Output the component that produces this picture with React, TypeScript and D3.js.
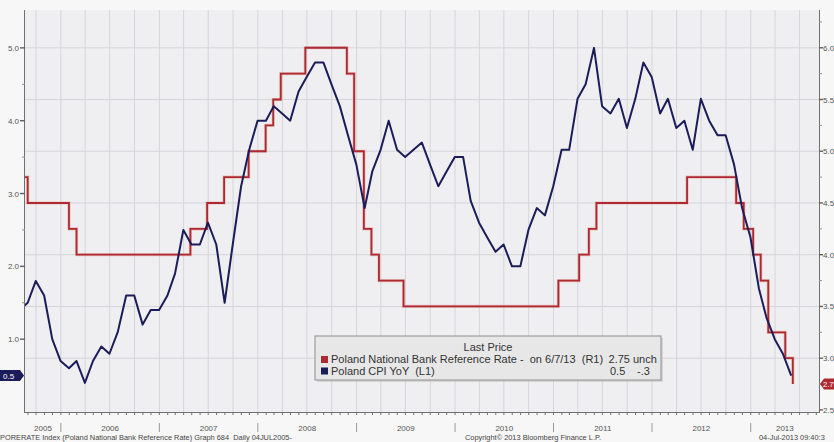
import React from "react";
import * as d3 from "d3";

// ---- data ----
// Poland CPI YoY, monthly, first value = Jul 2005 (plotted at month end)
const cpiFirstMonth = [2005, 6];
const cpiValues = [
  1.4, 1.5, 1.8, 1.6, 1.0, 0.7,
  0.6, 0.7, 0.4, 0.7, 0.9, 0.8, 1.1, 1.6, 1.6, 1.2, 1.4, 1.4,
  1.6, 1.9, 2.5, 2.3, 2.3, 2.6, 2.3, 1.5, 2.3, 3.1, 3.6, 4.0,
  4.0, 4.2, 4.1, 4.0, 4.4, 4.6, 4.8, 4.8, 4.5, 4.2, 3.8, 3.4,
  2.8, 3.3, 3.6, 4.0, 3.6, 3.5, 3.6, 3.7, 3.4, 3.1, 3.3, 3.5,
  3.5, 2.9, 2.6, 2.4, 2.2, 2.3, 2.0, 2.0, 2.5, 2.8, 2.7, 3.1,
  3.6, 3.6, 4.3, 4.5, 5.0, 4.2, 4.1, 4.3, 3.9, 4.3, 4.8, 4.6,
  4.1, 4.3, 3.9, 4.0, 3.6, 4.3, 4.0, 3.8, 3.8, 3.4, 2.8, 2.4,
  1.7, 1.3, 1.0, 0.8, 0.5,
];

// Poland National Bank reference rate decisions
const rateDates = [
  "2005-07-28", "2005-08-31", "2006-01-31", "2006-02-28", "2007-04-26", "2007-06-27",
  "2007-08-29", "2007-11-28", "2008-01-30", "2008-02-27", "2008-03-26", "2008-06-25",
  "2008-11-26", "2008-12-23", "2009-01-28", "2009-02-25", "2009-03-25", "2009-06-24",
  "2011-01-19", "2011-04-06", "2011-05-12", "2011-06-09", "2012-05-10", "2012-11-08",
  "2012-12-06", "2013-01-10", "2013-02-07", "2013-03-07", "2013-05-09", "2013-06-06",
];
const rateValues = [
  4.75, 4.5, 4.25, 4.0, 4.25, 4.5,
  4.75, 5.0, 5.25, 5.5, 5.75, 6.0,
  5.75, 5.0, 4.25, 4.0, 3.75, 3.5,
  3.75, 4.0, 4.25, 4.5, 4.75, 4.5,
  4.25, 4.0, 3.75, 3.25, 3.0, 2.75,
];

const leftTicks = [1.0, 2.0, 3.0, 4.0, 5.0];
const leftMinor = [0.5, 1.5, 2.5, 3.5, 4.5];
const rightTicks = [2.5, 3.0, 3.5, 4.0, 4.5, 5.0, 5.5, 6.0];
const rightMinor = [2.75, 3.25, 3.75, 4.25, 4.75, 5.25, 5.75, 6.25];
const years = [2005, 2006, 2007, 2008, 2009, 2010, 2011, 2012, 2013];

const legendTitle = "Last Price";
const rateLabel = "Poland National Bank Reference Rate -  on 6/7/13  (R1)";
const cpiLabel = "Poland CPI YoY  (L1)";
const rateLast = "2.75";
const rateChg = "unch";
const cpiLast = "0.5";
const cpiChg = "-.3";

const footerLeft = "PORERATE Index (Poland National Bank Reference Rate) Graph 684  Daily 04JUL2005-";
const footerMid = "Copyright\u00A9 2013 Bloomberg Finance L.P.";
const footerRight = "04-Jul-2013 09:40:3";

const FONT = "'Liberation Sans', Arial, sans-serif";

export default function App() {
  const W = 834, H = 442;
  const L = 25, R = 819, T = 10, B = 412;

  const x = d3.scaleTime().domain([new Date(2005, 7, 21), new Date(2013, 8, 11)]).range([L, R]);
  const yL = d3.scaleLinear().domain([0, 5.52]).range([B, T]);
  const yR = d3.scaleLinear().domain([2.48, 6.365]).range([B, T]);

  const parse = d3.timeParse("%Y-%m-%d");
  const rateData = rateDates.map((d, i) => ({ d: parse(d) as Date, v: rateValues[i] }));
  const cpiData = cpiValues.map((v, i) => ({ d: new Date(cpiFirstMonth[0], cpiFirstMonth[1] + i + 1, 0), v }));

  const rateLine = d3.line<{ d: Date; v: number }>().x(p => x(p.d)).y(p => yR(p.v)).curve(d3.curveStepAfter);
  const cpiLine = d3.line<{ d: Date; v: number }>().x(p => x(p.d)).y(p => yL(p.v));

  const quarters = d3.timeMonth.every(3)!.range(x.domain()[0], x.domain()[1]);
  const months = d3.timeMonth.range(x.domain()[0], x.domain()[1]);

  const [d0, d1] = x.domain();
  const yearPos = years.map(yr => {
    const s = new Date(Math.max(+d0, +new Date(yr, 0, 1)));
    const e = new Date(Math.min(+d1, +new Date(yr + 1, 0, 1)));
    return { yr, cx: (x(s) + x(e)) / 2 };
  });
  const seps = years.slice(1).map(yr => x(new Date(yr, 0, 1)));

  const lastCpi = cpiValues[cpiValues.length - 1];
  const lastRate = rateValues[rateValues.length - 1];
  const cL = yL(lastCpi);
  const cR = yR(lastRate);

  return (
    <svg width={W} height={H} style={{ position: "absolute", left: 0, top: 0, display: "block" }} fontFamily={FONT}>
      <defs>
        <clipPath id="plot">
          <rect x={L} y={T} width={R - L} height={B - T} />
        </clipPath>
      </defs>
      <rect x={0} y={0} width={W} height={H} fill="#f7f7f7" />
      <rect x={L} y={T} width={R - L} height={B - T} fill="#efeff1" />

      {/* grid */}
      {quarters.map((q, i) => (
        <line key={"vg" + i} x1={x(q)} x2={x(q)} y1={T} y2={B} stroke="#d6d6da" strokeWidth={1} />
      ))}
      {rightTicks.filter(t => t > 2.6).map((t, i) => (
        <line key={"hg" + i} x1={L} x2={R} y1={yR(t)} y2={yR(t)} stroke="#d6d6da" strokeWidth={1} />
      ))}

      {/* series */}
      <g clipPath="url(#plot)">
        <path d={rateLine(rateData) || ""} fill="none" stroke="#e2a0a0" strokeWidth={3.2} strokeOpacity={0.6} />
        <path d={rateLine(rateData) || ""} fill="none" stroke="#ad2a30" strokeWidth={1.8} />
        <path d={cpiLine(cpiData) || ""} fill="none" stroke="#1c1c5a" strokeWidth={2} strokeLinejoin="round" />
      </g>

      {/* left axis */}
      <line x1={L - 0.5} x2={L - 0.5} y1={T} y2={B + 1} stroke="#707070" strokeWidth={1} />
      {leftTicks.map((t, i) => (
        <g key={"lt" + i}>
          <line x1={L - 5} x2={L} y1={yL(t)} y2={yL(t)} stroke="#606060" strokeWidth={1.4} />
          <text x={L - 6} y={yL(t) + 3} fontSize={8} fill="#555" textAnchor="end">{t.toFixed(1)}</text>
        </g>
      ))}
      {leftMinor.map((t, i) => (
        <line key={"lm" + i} x1={L - 3} x2={L} y1={yL(t)} y2={yL(t)} stroke="#909090" strokeWidth={1} />
      ))}

      {/* right axis */}
      <line x1={R + 0.5} x2={R + 0.5} y1={T} y2={B + 1} stroke="#707070" strokeWidth={1} />
      {rightTicks.map((t, i) => (
        <g key={"rt" + i}>
          <line x1={R} x2={R + 4} y1={yR(t)} y2={yR(t)} stroke="#606060" strokeWidth={1.4} />
          <text x={R + 4} y={yR(t) + 3} fontSize={8} fill="#555">{t.toFixed(1)}</text>
        </g>
      ))}
      {rightMinor.map((t, i) => (
        <line key={"rm" + i} x1={R} x2={R + 3} y1={yR(t)} y2={yR(t)} stroke="#909090" strokeWidth={1} />
      ))}

      {/* bottom axis */}
      <line x1={L - 1} x2={R + 1} y1={B + 0.5} y2={B + 0.5} stroke="#707070" strokeWidth={1} />
      {months.map((m, i) => (
        <line key={"mt" + i} x1={x(m)} x2={x(m)} y1={B} y2={B + 3} stroke="#707070" strokeWidth={1} />
      ))}
      {yearPos.map(p => (
        <text key={"yl" + p.yr} x={p.cx} y={431} fontSize={8} fill="#555" textAnchor="middle">{p.yr}</text>
      ))}
      {seps.map((s, i) => (
        <line key={"sp" + i} x1={s} x2={s} y1={423} y2={432} stroke="#9a9a9a" strokeWidth={1} />
      ))}

      {/* last value badges */}
      <polygon points={`0,${cL - 5.5} 20,${cL - 5.5} 24,${cL} 20,${cL + 5.5} 0,${cL + 5.5}`} fill="#1c1c5a" />
      <text x={3} y={cL + 3} fontSize={8} fill="#fff">{lastCpi.toFixed(1)}</text>
      <polygon points={`${W},${cR - 5.5} ${R + 5},${cR - 5.5} ${R + 1},${cR} ${R + 5},${cR + 5.5} ${W},${cR + 5.5}`} fill="#ad2a30" />
      <text x={R + 4} y={cR + 3} fontSize={7.6} fill="#fff">{lastRate.toFixed(2)}</text>

      {/* legend */}
      <rect x={317} y={338} width={346} height={44} fill="#bdbdbd" opacity={0.5} />
      <rect x={315} y={336} width={346} height={44} fill="#e7e7e8" stroke="#8e8e8e" strokeWidth={1} />
      <text x={488} y={351} fontSize={11} fill="#333" textAnchor="middle">{legendTitle}</text>
      <rect x={321} y={356} width={7} height={7} fill="#ad2a30" />
      <text x={331} y={363} fontSize={11} fill="#333" style={{ whiteSpace: "pre" }}>{rateLabel}</text>
      <text x={630} y={363} fontSize={11} fill="#333" textAnchor="end">{rateLast}</text>
      <text x={633} y={363} fontSize={11} fill="#333">{rateChg}</text>
      <rect x={321} y={367.5} width={7} height={7} fill="#1c1c5a" />
      <text x={331} y={374.5} fontSize={11} fill="#333" style={{ whiteSpace: "pre" }}>{cpiLabel}</text>
      <text x={610} y={374.5} fontSize={11} fill="#333">{cpiLast}</text>
      <text x={637} y={374.5} fontSize={11} fill="#333">{cpiChg}</text>

      {/* footer */}
      <text x={0} y={440} fontSize={7.4} fill="#444" style={{ whiteSpace: "pre" }}>{footerLeft}</text>
      <text x={533} y={440} fontSize={7.4} fill="#444" textAnchor="middle">{footerMid}</text>
      <text x={759} y={440} fontSize={7.4} fill="#444">{footerRight}</text>
    </svg>
  );
}
